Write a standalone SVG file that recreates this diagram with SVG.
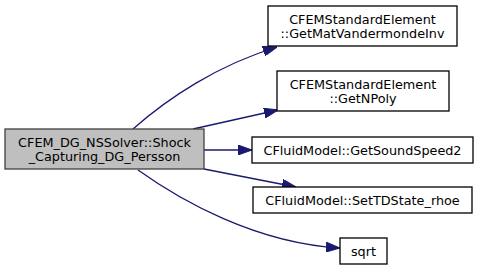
<svg xmlns="http://www.w3.org/2000/svg" width="480" height="270" viewBox="0 0 480 270">
  <style>
    .node rect { fill: #ffffff; stroke: #000000; stroke-width: 1.3; }
    .node.main rect { fill: #bfbfbf; stroke: #404040; }
    .node text { font-family: "DejaVu Sans", "Liberation Sans", sans-serif; font-size: 12.8px; fill: #000000; text-anchor: middle; }
    .edge { fill: none; stroke: #191970; stroke-width: 1.3; }
  </style>
  <defs>
    <marker id="arrow" viewBox="0 0 14 10" refX="14" refY="5" markerWidth="14" markerHeight="10" markerUnits="userSpaceOnUse" orient="auto">
      <polygon points="0,0 14,5 0,10" fill="#191970" stroke="#191970" stroke-width="1"/>
    </marker>
  </defs>

  <g id="edges">
    <path class="edge" d="M133,129 C168,98 218,65 277,47" marker-end="url(#arrow)"/>
    <path class="edge" d="M193,129 L278,110" marker-end="url(#arrow)"/>
    <path class="edge" d="M204,150 L252,150" marker-end="url(#arrow)"/>
    <path class="edge" d="M204,169 L296,187" marker-end="url(#arrow)"/>
    <path class="edge" d="M138,170 C180,200 255,243 340,248" marker-end="url(#arrow)"/>
  </g>

  <g id="node-shock-capturing" class="node main">
    <rect x="5" y="129" width="199" height="40"/>
    <text x="104.5" y="146.7">CFEM_DG_NSSolver::Shock</text>
    <text x="104.5" y="160.7">_Capturing_DG_Persson</text>
  </g>

  <g id="node-get-mat-vandermonde-inv" class="node">
    <rect x="268" y="6" width="189" height="40"/>
    <text x="362.5" y="23.7">CFEMStandardElement</text>
    <text x="362.5" y="37.7">::GetMatVandermondeInv</text>
  </g>

  <g id="node-get-npoly" class="node">
    <rect x="277" y="71" width="172" height="40"/>
    <text x="363" y="88.7">CFEMStandardElement</text>
    <text x="363" y="102.7">::GetNPoly</text>
  </g>

  <g id="node-get-sound-speed2" class="node">
    <rect x="252" y="137" width="221" height="26"/>
    <text x="362.5" y="154.6">CFluidModel::GetSoundSpeed2</text>
  </g>

  <g id="node-set-tdstate-rhoe" class="node">
    <rect x="253" y="187" width="219" height="26"/>
    <text x="362.5" y="204.6">CFluidModel::SetTDState_rhoe</text>
  </g>

  <g id="node-sqrt" class="node">
    <rect x="340" y="238" width="47" height="26"/>
    <text x="363.5" y="255.6">sqrt</text>
  </g>
</svg>
